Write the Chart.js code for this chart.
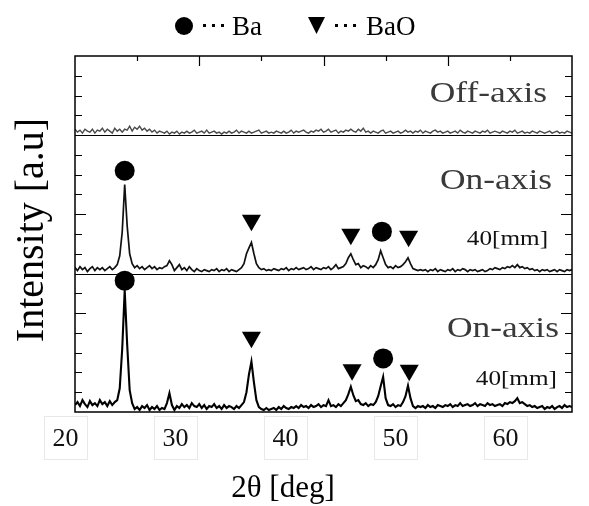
<!DOCTYPE html>
<html>
<head>
<meta charset="utf-8">
<script src="https://cdn.jsdelivr.net/npm/chart.js@4.4.1/dist/chart.umd.min.js"></script>
<style>
  html, body { margin: 0; padding: 0; background: #fff; }
  #wrap { width: 589px; height: 506px; }
</style>
</head>
<body>
<div id="wrap"><canvas id="c" width="589" height="506"></canvas></div>
<script>
// 2θ sampling grid (deg), 20.0 .. 60.0 every 0.2
const twoTheta = Array.from({length: 201}, (_, i) => +(20 + i * 0.2).toFixed(1));

// Off-axis intensity (a.u., relative to its panel baseline)
const offAxis = [
  0.3,0.15,0.25,0.1,0.3,0.2,0.15,0.3,0.1,0.25,
  0.2,0.35,0.15,0.3,0.2,0.1,0.35,0.2,0.3,0.15,
  0.3,0.25,0.45,0.2,0.4,0.3,0.45,0.25,0.35,0.2,
  0.3,0.15,0.25,0.1,0.2,0.15,0.1,0.2,0.05,0.15,
  0.1,0.2,0.05,0.15,0.1,0.2,0.1,0.15,0.25,0.1,
  0.15,0.2,0.1,0.25,0.1,0.15,0.2,0.1,0.15,0.05,
  0.15,0.1,0.2,0.1,0.15,0.25,0.1,0.2,0.15,0.1,
  0.2,0.1,0.15,0.2,0.25,0.1,0.15,0.2,0.1,0.15,
  0.1,0.2,0.15,0.1,0.2,0.1,0.15,0.25,0.1,0.2,
  0.15,0.2,0.25,0.15,0.1,0.2,0.15,0.25,0.2,0.3,
  0.15,0.2,0.3,0.15,0.2,0.25,0.1,0.2,0.15,0.25,
  0.2,0.3,0.2,0.15,0.3,0.2,0.35,0.15,0.2,0.1,
  0.2,0.15,0.1,0.2,0.25,0.1,0.15,0.2,0.1,0.15,
  0.2,0.1,0.15,0.25,0.15,0.2,0.1,0.2,0.15,0.25,
  0.1,0.2,0.15,0.1,0.2,0.25,0.15,0.2,0.1,0.15,
  0.2,0.1,0.15,0.2,0.1,0.25,0.15,0.1,0.2,0.15,
  0.1,0.2,0.15,0.1,0.2,0.15,0.25,0.1,0.15,0.2,
  0.15,0.1,0.2,0.15,0.1,0.2,0.15,0.25,0.1,0.15,
  0.2,0.1,0.15,0.1,0.2,0.15,0.1,0.2,0.15,0.1,
  0.15,0.2,0.1,0.15,0.2,0.1,0.15,0.1,0.2,0.15,
  0.1
];

// On-axis (upper "40[mm]" panel)
const onAxisUpper = [
  0.3,0.15,0.35,0.2,0.3,0.1,0.25,0.35,0.15,0.3,
  0.2,0.3,0.15,0.25,0.35,0.2,0.3,0.45,0.9,2.1,
  4.5,2.4,1.0,0.5,0.3,0.4,0.25,0.35,0.2,0.3,
  0.4,0.25,0.35,0.2,0.3,0.25,0.35,0.4,0.65,0.45,
  0.15,0.3,0.45,0.2,0.3,0.15,0.35,0.2,0.1,0.25,
  0.15,0.1,0.2,0.15,0.1,0.2,0.15,0.25,0.1,0.2,
  0.15,0.25,0.1,0.2,0.15,0.1,0.2,0.3,0.5,1.0,
  1.3,1.57,1.0,0.5,0.3,0.2,0.25,0.15,0.2,0.15,
  0.25,0.2,0.15,0.25,0.2,0.3,0.15,0.25,0.2,0.3,
  0.2,0.25,0.3,0.2,0.25,0.35,0.2,0.3,0.25,0.2,
  0.3,0.25,0.35,0.2,0.3,0.45,0.25,0.3,0.35,0.5,
  0.8,1.0,0.7,0.45,0.5,0.3,0.4,0.35,0.25,0.4,
  0.3,0.45,0.7,1.15,0.8,0.45,0.3,0.35,0.25,0.4,
  0.3,0.35,0.45,0.6,0.8,0.5,0.25,0.2,0.15,0.2,
  0.15,0.2,0.1,0.2,0.15,0.25,0.1,0.2,0.15,0.1,
  0.2,0.15,0.25,0.1,0.2,0.15,0.25,0.2,0.1,0.2,
  0.15,0.2,0.1,0.15,0.2,0.1,0.15,0.25,0.2,0.3,
  0.25,0.2,0.3,0.25,0.35,0.3,0.4,0.3,0.45,0.3,
  0.35,0.25,0.3,0.2,0.25,0.15,0.2,0.1,0.2,0.15,
  0.2,0.1,0.15,0.2,0.1,0.2,0.15,0.1,0.2,0.15,
  0.2
];

// On-axis (lower "40[mm]" panel)
const onAxisLower = [
  0.35,0.5,0.3,0.6,0.4,0.25,0.55,0.35,0.45,0.3,
  0.6,0.4,0.5,0.3,0.55,0.35,0.5,0.6,1.2,3.2,
  6.15,3.4,1.1,0.45,0.15,0.25,0.1,0.3,0.2,0.35,
  0.1,0.25,0.15,0.3,0.1,0.2,0.15,0.45,0.95,0.35,
  0.1,0.3,0.2,0.4,0.25,0.35,0.2,0.45,0.3,0.25,
  0.4,0.2,0.35,0.15,0.3,0.25,0.4,0.2,0.3,0.15,
  0.35,0.2,0.3,0.25,0.15,0.3,0.2,0.35,0.5,1.0,
  1.9,2.55,1.5,0.6,0.25,0.15,0.1,0.2,0.1,0.15,
  0.2,0.1,0.25,0.15,0.3,0.2,0.15,0.25,0.2,0.3,
  0.2,0.35,0.25,0.3,0.2,0.35,0.25,0.3,0.4,0.25,
  0.35,0.3,0.6,0.3,0.35,0.25,0.4,0.3,0.45,0.6,
  0.9,1.28,0.85,0.55,0.6,0.4,0.35,0.45,0.3,0.4,
  0.35,0.5,0.8,1.3,1.78,0.7,0.35,0.3,0.4,0.25,
  0.35,0.3,0.5,0.8,1.33,0.7,0.3,0.2,0.3,0.25,
  0.3,0.2,0.35,0.25,0.3,0.2,0.35,0.3,0.25,0.35,
  0.3,0.4,0.25,0.35,0.3,0.45,0.3,0.35,0.4,0.3,
  0.35,0.45,0.3,0.4,0.35,0.3,0.45,0.35,0.4,0.3,
  0.35,0.4,0.3,0.45,0.4,0.5,0.45,0.55,0.7,0.45,
  0.5,0.4,0.3,0.35,0.25,0.3,0.2,0.25,0.3,0.15,
  0.25,0.2,0.3,0.15,0.25,0.3,0.2,0.35,0.25,0.3,
  0.25
];

// Peak markers (2θ, height above panel baseline)
const baUpperX = [24.0, 44.7];   const baUpperY = [5.2, 2.12];
const baLowerX = [24.0, 44.8];   const baLowerY = [6.64, 2.71];
const baoUpperX = [34.2, 42.2, 46.85]; const baoUpperY = [2.7, 1.99, 1.89];
const baoLowerX = [34.2, 42.3, 46.9];  const baoLowerY = [3.78, 2.13, 2.11];

// Panel baselines (stack offsets on the shared intensity axis)
const panelOffsets = [14, 7, 0];
const panelLabels = ["Off-axis", "On-axis", "On-axis"];
const panelSubLabels = ["", "40[mm]", "40[mm]"];

// Axis ticks / labels
const xTickLabels = [20, 30, 40, 50, 60];
const xMinorTicks = [25, 30, 35, 40, 45, 50, 55];
const legendNames = ["Ba", "BaO"];
const xTitle = "2θ [deg]";
const yTitle = "Intensity [a.u]";

const SERIF = '"Liberation Serif", "DejaVu Serif", serif';

function toXY(xs, ys, off) { return xs.map((x, i) => ({x: x, y: ys[i] + off})); }

const datasets = [
  {data: toXY(twoTheta, offAxis, panelOffsets[0]), borderColor: '#4a4a4a', borderWidth: 1.4},
  {data: toXY(twoTheta, onAxisUpper, panelOffsets[1]), borderColor: '#111', borderWidth: 1.7},
  {data: toXY(twoTheta, onAxisLower, panelOffsets[2]), borderColor: '#000', borderWidth: 2.1},
].map(d => Object.assign({type: 'line', pointRadius: 0, tension: 0, fill: false}, d));

datasets.push(
  {type: 'scatter', data: toXY(baUpperX, baUpperY, panelOffsets[1]).concat(toXY(baLowerX, baLowerY, panelOffsets[2])),
   pointStyle: 'circle', pointRadius: 10, backgroundColor: '#000', borderColor: '#000', borderWidth: 0},
  {type: 'scatter', data: toXY(baoUpperX, baoUpperY, panelOffsets[1]).concat(toXY(baoLowerX, baoLowerY, panelOffsets[2])),
   pointStyle: 'triangle', rotation: 180, pointRadius: 11, backgroundColor: '#000', borderColor: '#000', borderWidth: 0}
);

// right-aligned text, stretched horizontally like the source figure
function stretchedText(ctx, text, xRight, yBase, font, sx, color) {
  ctx.save();
  ctx.font = font;
  ctx.fillStyle = color;
  ctx.textAlign = 'right';
  ctx.textBaseline = 'alphabetic';
  ctx.translate(xRight, yBase);
  ctx.scale(sx, 1);
  ctx.fillText(text, 0, 0);
  ctx.restore();
}

const decor = {
  id: 'decor',
  afterDatasetsDraw(chart) {
    const ctx = chart.ctx;
    const xs = chart.scales.x, ys = chart.scales.y;
    const L = xs.left, R = xs.right, T = ys.top, B = ys.bottom;
    ctx.save();
    // frame and panel separators
    ctx.strokeStyle = '#000';
    ctx.lineWidth = 1.5;
    ctx.strokeRect(L, T, R - L, B - T);
    ctx.lineWidth = 1.2;
    [panelOffsets[0], panelOffsets[1]].forEach(v => {
      const y = Math.round(ys.getPixelForValue(v)) + 0.5;
      ctx.beginPath(); ctx.moveTo(L, y); ctx.lineTo(R, y); ctx.stroke();
    });
    // y ticks (inward, both sides)
    for (let v = 1; v < 18; v++) {
      if (v === 7 || v === 14) continue;
      const y = Math.round(ys.getPixelForValue(v)) + 0.5;
      const len = (v === 5 || v === 10) ? 11 : 7;
      ctx.beginPath(); ctx.moveTo(L, y); ctx.lineTo(L + len, y);
      ctx.moveTo(R, y); ctx.lineTo(R - len, y); ctx.stroke();
    }
    // x ticks on top edge (inward)
    xMinorTicks.forEach(v => {
      const x = Math.round(xs.getPixelForValue(v)) + 0.5;
      const len = (v % 10 === 0) ? 10 : 5;
      ctx.beginPath(); ctx.moveTo(x, T); ctx.lineTo(x, T + len); ctx.stroke();
    });
    // panel labels
    const big = '30px ' + SERIF, small = '21px ' + SERIF;
    stretchedText(ctx, panelLabels[0], xs.getPixelForValue(57.99), ys.getPixelForValue(15.67), big, 1.18, '#3a3a3a');
    stretchedText(ctx, panelLabels[1], xs.getPixelForValue(58.39), ys.getPixelForValue(11.27), big, 1.18, '#3a3a3a');
    stretchedText(ctx, panelLabels[2], xs.getPixelForValue(58.95), ys.getPixelForValue(3.79), big, 1.18, '#3a3a3a');
    stretchedText(ctx, panelSubLabels[1], xs.getPixelForValue(58.07), ys.getPixelForValue(8.44), small, 1.2, '#111');
    stretchedText(ctx, panelSubLabels[2], xs.getPixelForValue(58.79), ys.getPixelForValue(1.37), small, 1.2, '#111');

    // x tick labels in light boxes (spaced as in the source figure)
    ctx.textAlign = 'center';
    ctx.textBaseline = 'middle';
    ctx.font = '26px ' + SERIF;
    xTickLabels.forEach((v) => {
      const cx = L - 9.5 + (v - xTickLabels[0]) / (xTickLabels[xTickLabels.length - 1] - xTickLabels[0]) * 440;
      ctx.strokeStyle = '#e8e8e8';
      ctx.lineWidth = 1;
      ctx.strokeRect(Math.round(cx - 21.5) + 0.5, 416.5, 43, 43);
      ctx.fillStyle = '#111';
      ctx.fillText(String(v), cx, 439);
    });
    // x title
    ctx.font = '31px ' + SERIF;
    ctx.textBaseline = 'alphabetic';
    ctx.fillStyle = '#000';
    ctx.fillText(xTitle, 283, 497);
    // y title
    ctx.save();
    ctx.translate(43, 230);
    ctx.rotate(-Math.PI / 2);
    ctx.font = '40px ' + SERIF;
    ctx.textAlign = 'center';
    ctx.fillText(yTitle, 0, 0);
    ctx.restore();

    // legend
    ctx.fillStyle = '#000';
    ctx.beginPath(); ctx.arc(184, 26, 9, 0, Math.PI * 2); ctx.fill();
    [203, 212, 221].forEach(x => ctx.fillRect(x, 24, 3, 3));
    ctx.font = '27px ' + SERIF;
    ctx.textAlign = 'left';
    ctx.fillText(legendNames[0], 232, 35);
    ctx.beginPath(); ctx.moveTo(308, 17); ctx.lineTo(325, 17); ctx.lineTo(316.5, 34); ctx.closePath(); ctx.fill();
    [335, 344, 353].forEach(x => ctx.fillRect(x, 24, 3, 3));
    ctx.fillText(legendNames[1], 366, 35);
    ctx.restore();
  }
};

new Chart(document.getElementById('c'), {
  data: {datasets},
  options: {
    responsive: false,
    devicePixelRatio: 1,
    animation: false,
    layout: {padding: {left: 75, right: 17, top: 56, bottom: 94}},
    scales: {
      x: {type: 'linear', min: 20, max: 60, display: false},
      y: {type: 'linear', min: 0, max: 18, display: false}
    },
    plugins: {legend: {display: false}, tooltip: {enabled: false}}
  },
  plugins: [decor]
});
</script>
</body>
</html>
